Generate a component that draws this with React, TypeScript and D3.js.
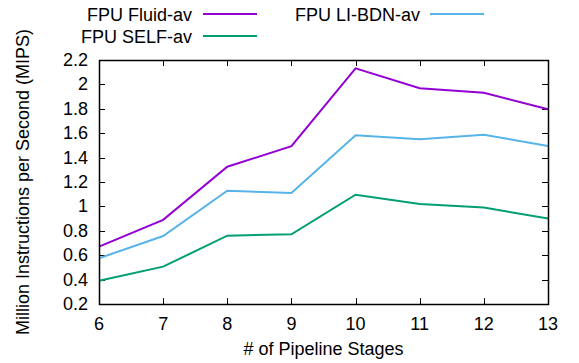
import React, { useEffect, useRef } from "react";
import * as d3 from "d3";

const stages = [6, 7, 8, 9, 10, 11, 12, 13];
const fluid = [0.67, 0.89, 1.325, 1.493, 2.132, 1.968, 1.932, 1.796];
const bdn = [0.575, 0.757, 1.129, 1.11, 1.583, 1.55, 1.588, 1.495];
const self = [0.39, 0.506, 0.76, 0.771, 1.096, 1.02, 0.99, 0.9];
const yTicks = [0.2, 0.4, 0.6, 0.8, 1, 1.2, 1.4, 1.6, 1.8, 2, 2.2];

const series = [
    { name: "FPU Fluid-av", values: fluid, color: "#9400d3" },
    { name: "FPU LI-BDN-av", values: bdn, color: "#56b4e9" },
    { name: "FPU SELF-av", values: self, color: "#009e73" },
];

const App = () => {
    const ref = useRef<SVGSVGElement>(null);
    const size = { width: 579, height: 363 };
    const m = { left: 99, right: 548, top: 60, bottom: 304 };

    useEffect(() => {
        const svg = d3.select(ref.current);
        svg.selectAll("*").remove();
        const font = "'Liberation Sans', Arial, sans-serif";
        const fs = 18;

        const x = d3.scaleLinear().domain([6, 13]).range([m.left, m.right]);
        const y = d3.scaleLinear().domain([0.2, 2.2]).range([m.bottom, m.top]);

        // ticks (mirrored on all sides, gnuplot style)
        const g = svg.append("g").attr("stroke", "#000").attr("stroke-width", 1);
        yTicks.forEach((t) => {
            const yy = Math.round(y(t)) + 0.5;
            g.append("line").attr("x1", m.left).attr("x2", m.left + 6).attr("y1", yy).attr("y2", yy);
            g.append("line").attr("x1", m.right - 6).attr("x2", m.right).attr("y1", yy).attr("y2", yy);
        });
        stages.forEach((t) => {
            const xx = Math.round(x(t)) + 0.5;
            g.append("line").attr("x1", xx).attr("x2", xx).attr("y1", m.bottom).attr("y2", m.bottom - 6);
            g.append("line").attr("x1", xx).attr("x2", xx).attr("y1", m.top).attr("y2", m.top + 6);
        });

        svg.append("g")
            .selectAll("text")
            .data(yTicks)
            .join("text")
            .attr("x", 88)
            .attr("y", (d) => y(d) + 6)
            .attr("text-anchor", "end")
            .attr("font-family", font)
            .attr("font-size", fs)
            .text((d) => String(d));

        svg.append("g")
            .selectAll("text")
            .data(stages)
            .join("text")
            .attr("x", (d) => x(d))
            .attr("y", 330)
            .attr("text-anchor", "middle")
            .attr("font-family", font)
            .attr("font-size", fs)
            .text((d) => String(d));

        const line = d3
            .line<number>()
            .x((d, i) => x(stages[i]))
            .y((d) => y(d));

        series.forEach((s) => {
            svg.append("path")
                .datum(s.values)
                .attr("d", line)
                .attr("fill", "none")
                .attr("stroke", s.color)
                .attr("stroke-width", 2);
        });

        svg.append("rect")
            .attr("x", m.left + 0.5)
            .attr("y", m.top + 0.5)
            .attr("width", m.right - m.left)
            .attr("height", m.bottom - m.top)
            .attr("fill", "none")
            .attr("stroke", "#000")
            .attr("stroke-width", 1.5);

        // legend
        const legend = [
            { s: series[0], tx: 192, lx: 203, ly: 14, by: 21 },
            { s: series[1], tx: 420, lx: 430, ly: 14, by: 21 },
            { s: series[2], tx: 192, lx: 203, ly: 36, by: 43 },
        ];
        legend.forEach((l) => {
            svg.append("text")
                .attr("x", l.tx)
                .attr("y", l.by)
                .attr("text-anchor", "end")
                .attr("font-family", font)
                .attr("font-size", fs)
                .text(l.s.name);
            svg.append("line")
                .attr("x1", l.lx)
                .attr("x2", l.lx + 54)
                .attr("y1", l.ly)
                .attr("y2", l.ly)
                .attr("stroke", l.s.color)
                .attr("stroke-width", 2);
        });

        svg.append("text")
            .attr("x", (m.left + m.right) / 2)
            .attr("y", 355)
            .attr("text-anchor", "middle")
            .attr("font-family", font)
            .attr("font-size", fs)
            .text("# of Pipeline Stages");

        svg.append("text")
            .attr("transform", `translate(29,${(m.top + m.bottom) / 2}) rotate(-90)`)
            .attr("text-anchor", "middle")
            .attr("font-family", font)
            .attr("font-size", fs)
            .text("Million Instructions per Second (MIPS)");
    }, []);

    return (
        <div style={{ position: "absolute", left: 0, top: 0 }}>
            <svg ref={ref} width={size.width} height={size.height}></svg>
        </div>
    );
};

export default App;
